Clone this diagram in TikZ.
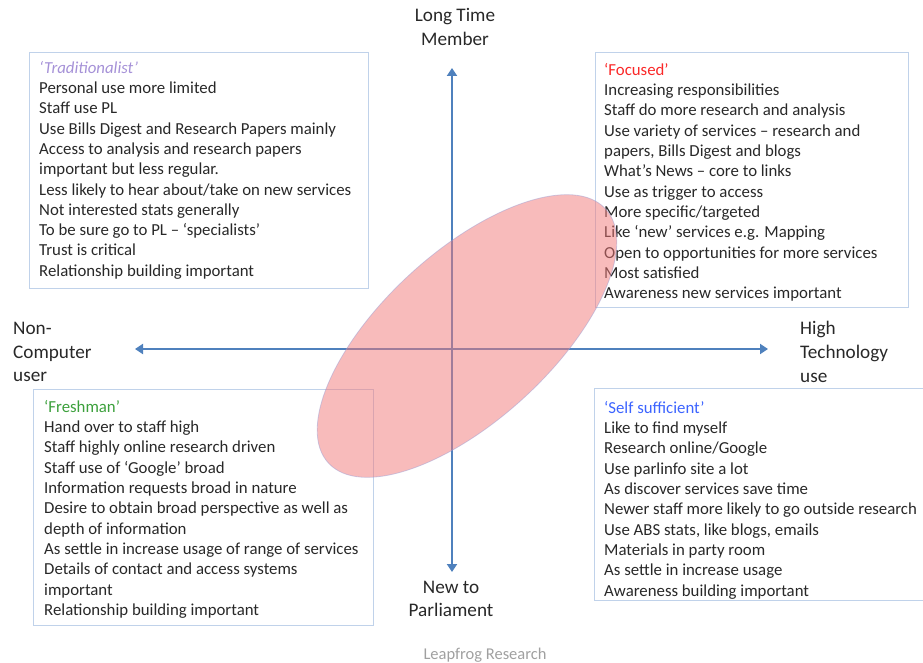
\documentclass[tikz,border=0pt]{standalone}
\usepackage{fontspec}
\setmainfont{Carlito}
\usetikzlibrary{arrows.meta}
\definecolor{axisblue}{RGB}{79,129,189}
\definecolor{boxblue}{RGB}{192,210,234}
\definecolor{bodytext}{RGB}{40,40,40}
\definecolor{tradcol}{RGB}{165,145,215}
\definecolor{focuscol}{RGB}{250,40,40}
\definecolor{freshcol}{RGB}{60,160,60}
\definecolor{selfcol}{RGB}{60,100,255}
\definecolor{ellfill}{RGB}{242,120,120}
\definecolor{elledge}{RGB}{160,160,210}
\definecolor{footgray}{RGB}{160,160,160}
\begin{document}
\begin{tikzpicture}[x=1pt,y=-1pt,
  quadbox/.style={draw=boxblue, line width=1.3pt, anchor=north west, inner sep=0pt},
  quadtext/.style={anchor=north west, inner sep=0pt, align=left, text=bodytext, font=\fontsize{16.8}{20.3}\selectfont},
  axislabel/.style={text=bodytext, font=\fontsize{19.2}{23.8}\selectfont, inner sep=0pt},
  axisarrow/.style={draw=axisblue, line width=2.6pt, {Triangle[width=10pt,length=8pt]}-{Triangle[width=10pt,length=8pt]}}]
\useasboundingbox (0,0) rectangle (923,663);

% quadrant boxes
\node[quadbox, minimum width=339pt, minimum height=236pt] (tradbox) at (29,52) {};
\node[quadbox, minimum width=313pt, minimum height=255pt] (focbox) at (595,52) {};
\node[quadbox, minimum width=340pt, minimum height=236pt] (freshbox) at (33,389) {};
\node[quadbox, minimum width=332pt, minimum height=212pt] (selfbox) at (594,388) {};

% texts
\node[quadtext] (tradtext) at (39,61) {{\color{tradcol}\itshape ‘Traditionalist’}\\
Personal use more limited\\
Staff use PL\\
Use Bills Digest and Research Papers mainly\\
Access to analysis and research papers\\
important but less regular.\\
Less likely to hear about/take on new services\\
Not interested stats generally\\
To be sure go to PL – ‘specialists’\\
Trust is critical\\
Relationship building important};

\node[quadtext] (foctext) at (604,63) {{\color{focuscol}‘Focused’}\\
Increasing responsibilities\\
Staff do more research and analysis\\
Use variety of services – research and\\
papers, Bills Digest and blogs\\
What’s News – core to links\\
Use as trigger to access\\
More specific/targeted\\
Like ‘new’ services e.g. Mapping\\
Open to opportunities for more services\\
Most satisfied\\
Awareness new services important};

\node[quadtext] (freshtext) at (44,400) {{\color{freshcol}‘Freshman’}\\
Hand over to staff high\\
Staff highly online research driven\\
Staff use of ‘Google’ broad\\
Information requests broad in nature\\
Desire to obtain broad perspective as well as\\
depth of information\\
As settle in increase usage of range of services\\
Details of contact and access systems\\
important\\
Relationship building important};

\node[quadtext] (selftext) at (604,401) {{\color{selfcol}‘Self sufficient’}\\
Like to find myself\\
Research online/Google\\
Use parlinfo site a lot\\
As discover services save time\\
Newer staff more likely to go outside research\\
Use ABS stats, like blogs, emails\\
Materials in party room\\
As settle in increase usage\\
Awareness building important};

% axes
\coordinate (top) at (452,68);
\coordinate (bottom) at (452,572);
\coordinate (left) at (135,349);
\coordinate (right) at (768,349);
\draw[axisarrow] (bottom) -- (top);
\draw[axisarrow] (left) -- (right);

% axis labels
\node[axislabel, align=center] (longtime) at (455,27) {Long Time\\Member};
\node[axislabel, align=left, anchor=west] (noncomp) at (13,352) {Non-\\Computer\\user};
\node[axislabel, align=left, anchor=west] (hightech) at (800,352) {High\\Technology\\use};
\node[axislabel, align=center] (newparl) at (451,599) {New to\\Parliament};
\node[text=footgray, font=\fontsize{16.5}{19}\selectfont, inner sep=0pt] (footer) at (485,655) {Leapfrog Research};

% ellipse
\filldraw[fill=ellfill, fill opacity=0.5, draw=elledge, draw opacity=0.5, line width=0.8pt, rotate around={42.5:(467,336)}] (467,336) ellipse [x radius=188, y radius=84];
\end{tikzpicture}
\end{document}
